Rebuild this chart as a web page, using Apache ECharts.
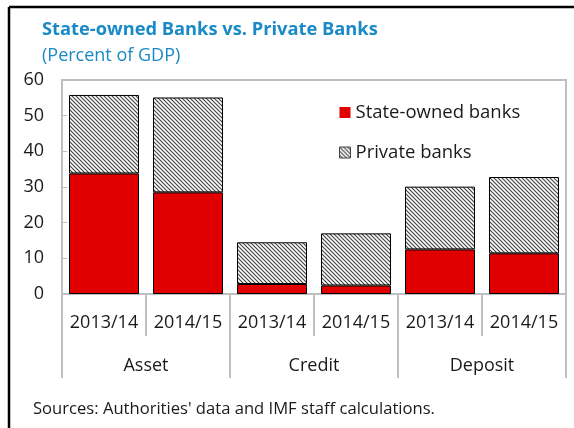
<!DOCTYPE html>
<html>
<head>
<meta charset="utf-8">
<script src="https://cdn.jsdelivr.net/npm/echarts@6/dist/echarts.min.js"></script>
<style>
  html, body { margin: 0; padding: 0; background: #fff; }
  #chart { width: 574px; height: 428px; }
</style>
</head>
<body>
<div id="chart"></div>
<script>
var years = ['2013/14', '2014/15', '2013/14', '2014/15', '2013/14', '2014/15'];
var groups = ['Asset', 'Credit', 'Deposit'];
var stateOwned = [33.8, 28.5, 2.8, 2.4, 12.5, 11.4];
var privateBanks = [22.0, 26.6, 11.7, 14.6, 17.6, 21.4];
var yTicks = [0, 10, 20, 30, 40, 50, 60];

// hatch pattern for private banks
function makeHatch() {
  var c = document.createElement('canvas');
  c.width = 4; c.height = 4;
  var ctx = c.getContext('2d');
  ctx.fillStyle = '#fff';
  ctx.fillRect(0, 0, 4, 4);
  ctx.strokeStyle = '#444';
  ctx.lineWidth = 1.2;
  ctx.beginPath();
  ctx.moveTo(-1, -1); ctx.lineTo(5, 5);
  ctx.moveTo(-1, 3); ctx.lineTo(1, 5);
  ctx.moveTo(3, -1); ctx.lineTo(5, 1);
  ctx.stroke();
  return c;
}
var hatch = { image: makeHatch(), repeat: 'repeat' };

var font = '"Open Sans", sans-serif';
var gray = '#bfbfbf';
var chart = echarts.init(document.getElementById('chart'));

var option = {
  animation: false,
  textStyle: { fontFamily: font },
  title: {
    text: 'State-owned Banks vs. Private Banks',
    subtext: '(Percent of GDP)',
    left: 37,
    top: 16,
    itemGap: 8,
    textStyle: { fontSize: 18.3, fontWeight: 'bold', color: '#1a8ac6', fontFamily: font },
    subtextStyle: { fontSize: 18, color: '#1a8ac6', fontFamily: font }
  },
  legend: {
    orient: 'vertical',
    left: 334,
    top: 98,
    itemWidth: 11,
    itemHeight: 11,
    itemGap: 21,
    icon: 'rect',
    textStyle: { fontSize: 18.5, color: '#1a1a1a', fontFamily: font },
    data: [
      { name: 'State-owned banks', itemStyle: { color: '#e00000', borderWidth: 0 } },
      { name: 'Private banks', itemStyle: { color: hatch, borderColor: '#444', borderWidth: 1 } }
    ]
  },
  grid: {
    left: 62, top: 80, right: 8, bottom: 134,
    show: true, borderColor: gray, borderWidth: 2
  },
  xAxis: [
    {
      type: 'category',
      data: years,
      position: 'bottom',
      axisLine: { show: true, lineStyle: { color: gray, width: 2 } },
      axisTick: { show: true, interval: 0, length: 42, lineStyle: { color: gray, width: 2 } },
      axisLabel: { interval: 0, fontSize: 18, color: '#1a1a1a', margin: 20, fontFamily: font }
    },
    {
      type: 'category',
      data: groups,
      position: 'bottom',
      axisLine: { show: false },
      axisTick: { show: true, interval: 0, length: 84, lineStyle: { color: gray, width: 2 } },
      axisLabel: { interval: 0, fontSize: 18, color: '#1a1a1a', margin: 63, fontFamily: font }
    }
  ],
  yAxis: {
    type: 'value',
    min: yTicks[0],
    max: yTicks[yTicks.length - 1],
    interval: 10,
    splitLine: { show: false },
    axisLine: { show: true, lineStyle: { color: gray, width: 2 } },
    axisTick: { show: true, inside: true, length: 5, lineStyle: { color: gray, width: 1 } },
    axisLabel: { fontSize: 18, color: '#1a1a1a', margin: 18, fontFamily: font }
  },
  series: [
    {
      name: 'State-owned banks',
      type: 'bar',
      stack: 'total',
      xAxisIndex: 0,
      barWidth: 70,
      data: stateOwned,
      itemStyle: { color: '#e00000', borderColor: '#000', borderWidth: 1 }
    },
    {
      name: 'Private banks',
      type: 'bar',
      stack: 'total',
      xAxisIndex: 0,
      barWidth: 70,
      data: privateBanks,
      itemStyle: { color: hatch, borderColor: '#000', borderWidth: 1 }
    }
  ],
  graphic: [
    { type: 'line', shape: { x1: 9, y1: 7, x2: 574, y2: 7 }, style: { stroke: '#000', lineWidth: 2.5 } },
    { type: 'line', shape: { x1: 9, y1: 7, x2: 9, y2: 428 }, style: { stroke: '#000', lineWidth: 2.5 } },
    {
      type: 'text', left: 33, top: 401,
      style: { text: "Sources: Authorities' data and IMF staff calculations.", fontSize: 16.6, fill: '#1a1a1a', fontFamily: font }
    }
  ]
};
chart.setOption(option);
</script>
</body>
</html>
